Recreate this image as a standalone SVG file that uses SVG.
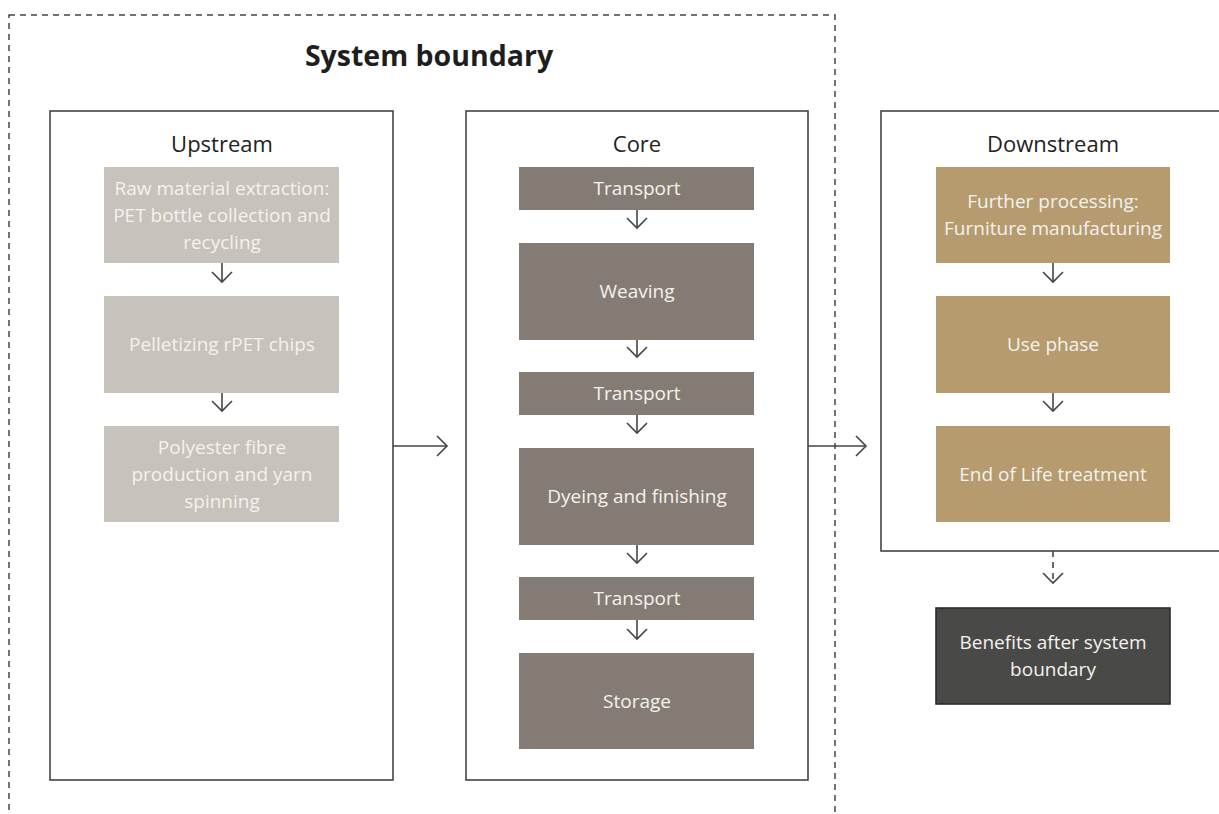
<svg xmlns="http://www.w3.org/2000/svg" width="1219" height="814" viewBox="0 0 1219 814">
<defs>
<marker id="chev" markerUnits="userSpaceOnUse" markerWidth="24" markerHeight="24" viewBox="-12 -12 24 24" refX="0" refY="0" orient="auto">
<path d="M-10,-10 L0,0 L-10,10" fill="none" stroke="#444" stroke-width="1.6"/>
</marker>
</defs>
<style>
text{font-family:"Open Sans","Noto Sans","DejaVu Sans",sans-serif;text-anchor:middle}
.title{font-size:28.5px;font-weight:700;fill:#1e1e1e}
.sec{fill:#fff;stroke:#444;stroke-width:1.6}
.sect{font-size:22px;fill:#222}
.up{fill:#c7c2bb}
.core{fill:#847c74}
.down{fill:#b59b6e}
.ben{fill:#494947;stroke:#2c2c2c;stroke-width:1.6}
.nt{font-size:19px;fill:#f4f2ee}
.c line{stroke:#444;stroke-width:1.6;marker-end:url(#chev)}
.c .d{stroke-dasharray:6 5}
</style>
<rect x="9" y="15" width="826" height="820" fill="none" stroke="#444" stroke-width="1.5" stroke-dasharray="6 5"/>
<text class="title" x="429" y="66">System boundary</text>

<g id="upstream">
<rect class="sec" x="50" y="111" width="343" height="669"/>
<text class="sect" x="222" y="152">Upstream</text>
</g>
<g id="core">
<rect class="sec" x="466" y="111" width="342" height="669"/>
<text class="sect" x="637" y="152">Core</text>
</g>
<g id="downstream">
<rect class="sec" x="881" y="111" width="345" height="440"/>
<text class="sect" x="1053" y="152">Downstream</text>
</g>

<g id="raw">
<rect class="up" x="104" y="167" width="235" height="96"/>
<text class="nt" x="222" y="195">Raw material extraction:</text>
<text class="nt" x="222" y="222">PET bottle collection and</text>
<text class="nt" x="222" y="249">recycling</text>
</g>
<g id="pellet">
<rect class="up" x="104" y="296" width="235" height="97"/>
<text class="nt" x="222" y="351">Pelletizing rPET chips</text>
</g>
<g id="fibre">
<rect class="up" x="104" y="426" width="235" height="96"/>
<text class="nt" x="222" y="454">Polyester fibre</text>
<text class="nt" x="222" y="481">production and yarn</text>
<text class="nt" x="222" y="508">spinning</text>
</g>

<g id="transport1">
<rect class="core" x="519" y="167" width="235" height="43"/>
<text class="nt" x="637" y="195">Transport</text>
</g>
<g id="weaving">
<rect class="core" x="519" y="243" width="235" height="97"/>
<text class="nt" x="637" y="298">Weaving</text>
</g>
<g id="transport2">
<rect class="core" x="519" y="372" width="235" height="43"/>
<text class="nt" x="637" y="400">Transport</text>
</g>
<g id="dyeing">
<rect class="core" x="519" y="448" width="235" height="97"/>
<text class="nt" x="637" y="503">Dyeing and finishing</text>
</g>
<g id="transport3">
<rect class="core" x="519" y="577" width="235" height="43"/>
<text class="nt" x="637" y="605">Transport</text>
</g>
<g id="storage">
<rect class="core" x="519" y="653" width="235" height="96"/>
<text class="nt" x="637" y="708">Storage</text>
</g>

<g id="further">
<rect class="down" x="936" y="167" width="234" height="96"/>
<text class="nt" x="1053" y="208">Further processing:</text>
<text class="nt" x="1053" y="235">Furniture manufacturing</text>
</g>
<g id="use">
<rect class="down" x="936" y="296" width="234" height="97"/>
<text class="nt" x="1053" y="351">Use phase</text>
</g>
<g id="eol">
<rect class="down" x="936" y="426" width="234" height="96"/>
<text class="nt" x="1053" y="481">End of Life treatment</text>
</g>
<g id="benefits">
<rect class="ben" x="936" y="608" width="234" height="96"/>
<text class="nt" x="1053" y="649">Benefits after system</text>
<text class="nt" x="1053" y="676">boundary</text>
</g>

<g id="connectors" class="c">
<line x1="222" y1="263" x2="222" y2="282"/>
<line x1="222" y1="393" x2="222" y2="411"/>
<line x1="637" y1="210" x2="637" y2="228"/>
<line x1="637" y1="340" x2="637" y2="357"/>
<line x1="637" y1="415" x2="637" y2="433"/>
<line x1="637" y1="545" x2="637" y2="563"/>
<line x1="637" y1="620" x2="637" y2="639"/>
<line x1="1053" y1="263" x2="1053" y2="282"/>
<line x1="1053" y1="393" x2="1053" y2="411"/>
<line x1="393" y1="446" x2="447" y2="446"/>
<line x1="808" y1="446" x2="866" y2="446"/>
<line class="d" x1="1053" y1="551" x2="1053" y2="583"/>
</g>
</svg>
